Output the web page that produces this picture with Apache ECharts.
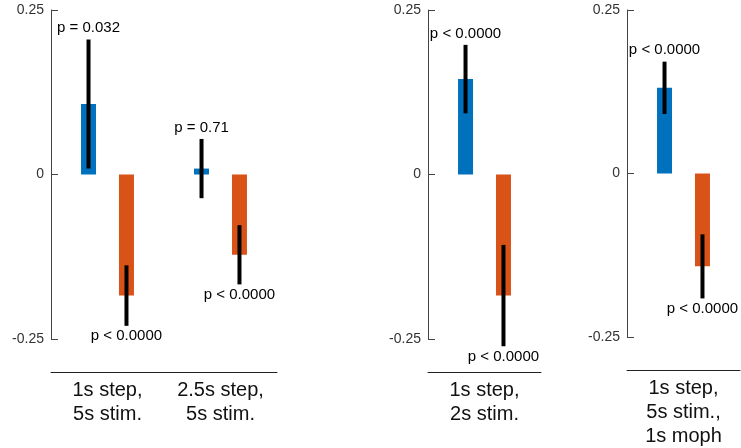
<!DOCTYPE html>
<html>
<head>
	<meta charset="utf-8">
	<title>bars</title>
	<script type="text/javascript" src="https://cdn.jsdelivr.net/npm/echarts@6/dist/echarts.min.js"></script>
</head>
<body style="margin:0">
	<div id="chart" style="width: 741px; height: 448px;"></div>
	<script type="text/javascript">
	// one entry per group, panelOf says which panel the group lives in
	var categories = ['1s step,\n5s stim.', '2.5s step,\n5s stim.', '1s step,\n2s stim.', '1s step,\n5s stim.,\n1s moph'];
	var panelOf = [0, 0, 1, 2];
	var blueMean = [0.107, 0.009, 0.145, 0.131];
	var blueErr = [0.098, 0.045, 0.052, 0.040];
	var orangeMean = [-0.184, -0.122, -0.184, -0.142];
	var orangeErr = [0.046, 0.045, 0.077, 0.049];
	var blueP = ['p = 0.032', 'p = 0.71', 'p < 0.0000', 'p < 0.0000'];
	var orangeP = ['p < 0.0000', 'p < 0.0000', 'p < 0.0000', 'p < 0.0000'];
	var yTicks = [-0.25, 0, 0.25];

	var font = 'Liberation Sans, Arial, sans-serif';
	var barWidth = 15;
	var barGap = 1.53;
	var offset = barWidth * (1 + barGap) / 2;

	var grids = [
		{left: 51, width: 226, top: 10, height: 329},
		{left: 428, width: 113, top: 10, height: 329},
		{left: 627, width: 113, top: 10, height: 329}
	];

	function pick(arr, p) {
		return arr.filter(function (v, i) { return panelOf[i] === p; });
	}

	function errSeries(p, means, errs, labels, side) {
		var m = pick(means, p), e = pick(errs, p), l = pick(labels, p);
		return {
			type: 'custom',
			xAxisIndex: p,
			yAxisIndex: p,
			z: 5,
			data: m.map(function (v, i) { return [i, v, e[i]]; }),
			renderItem: function (params, api) {
				var c = api.value(0), mean = api.value(1), err = api.value(2);
				var x = api.coord([c, 0])[0] + side * offset;
				var yTop = api.coord([c, mean + err])[1];
				var yBot = api.coord([c, mean - err])[1];
				var txt = l[params.dataIndex];
				return {
					type: 'group',
					children: [
						{type: 'rect', shape: {x: x - 2, y: yTop, width: 4, height: yBot - yTop}, style: {fill: '#000'}},
						{type: 'text', x: x, y: side < 0 ? yTop - 4 : yBot + 3,
							style: {text: txt, fill: '#000', font: '15px ' + font, align: 'center',
								verticalAlign: side < 0 ? 'bottom' : 'top'}}
					]
				};
			}
		};
	}

	var xAxes = [], yAxes = [], series = [];
	for (var p = 0; p < 3; p++) {
		xAxes.push({
			type: 'category', gridIndex: p, data: pick(categories, p), position: 'bottom', offset: 33,
			axisTick: {show: false},
			axisLine: {onZero: false, lineStyle: {color: '#222', width: 1}},
			axisLabel: {interval: 0, fontSize: 20, lineHeight: 24, color: '#111', margin: 6, fontFamily: font}
		});
		yAxes.push({
			type: 'value', gridIndex: p, min: yTicks[0], max: yTicks[2], interval: 0.25,
			splitLine: {show: false},
			axisLine: {show: true, lineStyle: {color: '#444'}},
			axisTick: {show: true, inside: true, length: 7, lineStyle: {color: '#444'}},
			axisLabel: {fontSize: 14, color: '#333', margin: 7, fontFamily: font}
		});
		series.push({
			type: 'bar', xAxisIndex: p, yAxisIndex: p, data: pick(blueMean, p),
			barWidth: barWidth, barGap: (barGap * 100) + '%', itemStyle: {color: '#0072BD'}
		});
		series.push({
			type: 'bar', xAxisIndex: p, yAxisIndex: p, data: pick(orangeMean, p),
			barWidth: barWidth, barGap: (barGap * 100) + '%', itemStyle: {color: '#D95319'}
		});
		series.push(errSeries(p, blueMean, blueErr, blueP, -1));
		series.push(errSeries(p, orangeMean, orangeErr, orangeP, 1));
	}

	var chart = echarts.init(document.getElementById('chart'));
	chart.setOption({
		animation: false,
		backgroundColor: '#fff',
		grid: grids,
		xAxis: xAxes,
		yAxis: yAxes,
		series: series
	});
	</script>
</body>
</html>
